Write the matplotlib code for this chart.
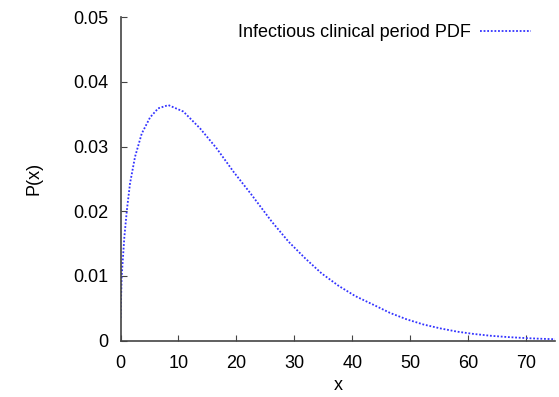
import matplotlib
matplotlib.use('Agg')
import matplotlib.pyplot as plt

plt.rcParams['font.family'] = 'Liberation Sans'

# values
x = [0.0, 0.2, 0.66, 1.1, 1.64, 2.5, 3.66, 5.1, 6.5, 8.26, 10.85, 13.73, 16.6,
     19.5, 22.4, 26.1, 29.0, 31.9, 34.7, 37.6, 40.5, 44.0, 46.5, 49.4, 52.3,
     55.2, 58.1, 60.9, 63.8, 66.7, 69.6, 72.0, 75.0]
p = [0.0035, 0.0099, 0.0160, 0.0202, 0.0243, 0.0284, 0.0320, 0.0345, 0.0359,
     0.0364, 0.0354, 0.0328, 0.0297, 0.0261, 0.0228, 0.0184, 0.0153, 0.0127,
     0.0104, 0.0085, 0.0069, 0.0054, 0.0043, 0.0033, 0.0025, 0.0019, 0.0014,
     0.00105, 0.00077, 0.00057, 0.00042, 0.00032, 0.00023]

xticks = [0, 10, 20, 30, 40, 50, 60, 70]
yticks = [0, 0.01, 0.02, 0.03, 0.04, 0.05]
ylabels = ['0', '0.01', '0.02', '0.03', '0.04', '0.05']

fs = 13

fig = plt.figure(figsize=(5.59, 3.97), dpi=100)
ax = fig.add_axes([0.2156, 0.1418, 0.7774, 0.8152])

ax.plot(x, p, color='#3333ff', linestyle=(0, (1, 1)), linewidth=1.3,
        label='Infectious clinical period PDF')

ax.set_xlim(0, 75)
ax.set_ylim(0, 0.05)
ax.set_xticks(xticks)
ax.set_yticks(yticks)
ax.set_yticklabels(ylabels)
ax.tick_params(direction='in', length=4, width=0.8, labelsize=fs, color='#444444')
ax.tick_params(axis='y', pad=9)
ax.tick_params(axis='x', pad=10)

for s in ['top', 'right']:
    ax.spines[s].set_visible(False)
for s in ['left', 'bottom']:
    ax.spines[s].set_color('#444444')
    ax.spines[s].set_linewidth(1.2)

ax.set_xlabel('x', fontsize=fs, labelpad=4)
ax.set_ylabel('P(x)', fontsize=fs, labelpad=22)

ax.legend(loc='upper right', bbox_to_anchor=(531 / 559, 1 - 24 / 397),
          bbox_transform=fig.transFigure, frameon=False, markerfirst=False,
          fontsize=fs, handlelength=2.8, handletextpad=0.55,
          borderaxespad=0, borderpad=0)

fig.savefig('out.png', dpi=100)
